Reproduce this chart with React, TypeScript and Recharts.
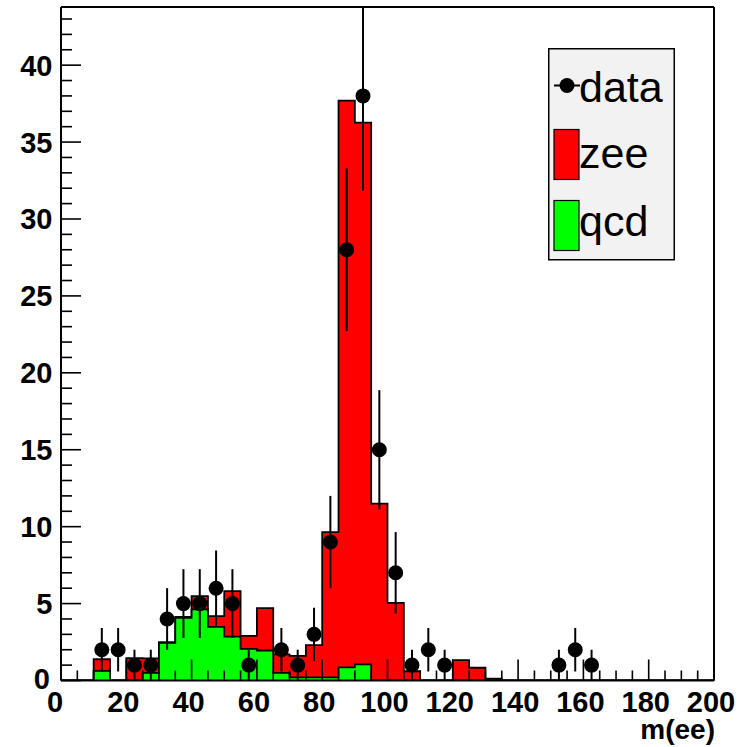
import {
  Area,
  ComposedChart,
  ErrorBar,
  Label,
  Legend,
  ReferenceLine,
  Scatter,
  XAxis,
  YAxis,
} from "recharts";

// bins of 5 in m(ee), lower edges
const binLow = [
  0, 5, 10, 15, 20, 25, 30, 35, 40, 45, 50, 55, 60, 65, 70, 75, 80, 85, 90, 95,
  100, 105, 110, 115, 120, 125, 130, 135, 140, 145, 150, 155, 160, 165, 170, 175, 180, 185, 190, 195,
];
const qcd = [
  0, 0, 0.62, 0, 0, 0.5, 2.45, 4.08, 4.62, 3.49, 2.85, 2.05, 1.95, 0.5, 0.2, 0.2, 0.2, 0.85, 1.05, 0,
  0, 0, 0, 0, 0, 0, 0, 0, 0, 0, 0, 0, 0, 0, 0, 0, 0, 0, 0, 0,
];
const zee = [
  0, 0, 0.76, 0, 1.45, 0.94, 0.05, 0.05, 0.87, 0.7, 2.96, 0.85, 2.75, 1.2, 1.4, 2.1, 9.45, 36.85, 35.22, 11.5,
  5.05, 0.6, 0, 0, 1.33, 0.83, 0.12, 0, 0, 0, 0, 0, 0, 0, 0, 0, 0, 0, 0, 0,
];

// observed counts at bin centres
const dataX = [
  12.5, 17.5, 22.5, 27.5, 32.5, 37.5, 42.5, 47.5, 52.5, 57.5, 67.5, 72.5, 77.5, 82.5, 87.5, 92.5, 97.5,
  102.5, 107.5, 112.5, 117.5, 152.5, 157.5, 162.5,
];
const dataN = [2, 2, 1, 1, 4, 5, 5, 6, 5, 1, 2, 1, 3, 9, 28, 38, 15, 7, 1, 2, 1, 1, 2, 1];

const xTicks = [
  0, 5, 10, 15, 20, 25, 30, 35, 40, 45, 50, 55, 60, 65, 70, 75, 80, 85, 90, 95, 100,
  105, 110, 115, 120, 125, 130, 135, 140, 145, 150, 155, 160, 165, 170, 175, 180, 185, 190, 195, 200,
];
const yTicks = [
  0, 1, 2, 3, 4, 5, 6, 7, 8, 9, 10, 11, 12, 13, 14, 15, 16, 17, 18, 19, 20, 21,
  22, 23, 24, 25, 26, 27, 28, 29, 30, 31, 32, 33, 34, 35, 36, 37, 38, 39, 40, 41, 42, 43,
];

const X_MAX = 200;
const Y_MAX = 43.78;
const FONT = "'Liberation Sans', Arial, Helvetica, sans-serif";

const lastBin = binLow.length - 1;
const histRows = [
  ...binLow.map((x, i) => ({ x, qcd: qcd[i], total: qcd[i] + zee[i] })),
  { x: X_MAX, qcd: qcd[lastBin], total: qcd[lastBin] + zee[lastBin] },
];
// poisson errors, upper side cut at the frame like ROOT does
const dataPts = dataX.map((x, i) => {
  const e = Math.sqrt(dataN[i]);
  return { x, y: dataN[i], err: [e, Math.min(e, Y_MAX - dataN[i])] };
});

function XTick(props: any) {
  const { x, y, payload } = props;
  const v = payload.value;
  const major = v % 20 === 0;
  return (
    <g>
      <line x1={x} x2={x} y1={y} y2={y - (major ? 21 : 10)} stroke="#000" strokeWidth={1.6} />
      {major && (
        <text x={x - (v === 0 ? 6 : 3)} y={y + 31} textAnchor="middle" fontFamily={FONT} fontWeight="bold" fontSize={29} fill="#000">
          {v}
        </text>
      )}
    </g>
  );
}

function YTick(props: any) {
  const { x, y, payload } = props;
  const v = payload.value;
  const major = v % 5 === 0;
  return (
    <g>
      <line x1={x} x2={x + (major ? 20 : 11)} y1={y} y2={y} stroke="#000" strokeWidth={1.6} />
      {major && (
        <text x={x - (v === 0 ? 11 : 8.5)} y={y - (v === 0 ? 2 : 0)} dy="0.36em" textAnchor="end" fontFamily={FONT} fontWeight="bold" fontSize={29} fill="#000">
          {v}
        </text>
      )}
    </g>
  );
}

function XTitle(props: any) {
  const vb = props.viewBox;
  return (
    <text x={vb.x + vb.width + 1} y={vb.y + 58.5} textAnchor="end" fontFamily={FONT} fontWeight="bold" fontSize={28} fill="#000">
      m(ee)
    </text>
  );
}

function Dot(props: any) {
  return <circle cx={props.cx} cy={props.cy} r={7.5} fill="#000" />;
}

function LegendBox() {
  const txt = { fontFamily: FONT, fontSize: 43, fill: "#000" };
  return (
    <svg width={128} height={213} style={{ display: "block" }}>
      <rect x={0.75} y={0.75} width={125.5} height={211} fill="#f2f2f2" stroke="#000" strokeWidth={1.5} />
      <line x1={6} x2={32} y1={37.5} y2={37.5} stroke="#000" strokeWidth={2} />
      <circle cx={19} cy={37.5} r={7.5} fill="#000" />
      <text x={31} y={53.5} {...txt}>data</text>
      <rect x={6} y={81.5} width={25} height={50} fill="#ff0000" stroke="#000" strokeWidth={1.2} />
      <text x={31} y={119.5} {...txt}>zee</text>
      <rect x={6} y={152.5} width={25} height={50} fill="#00ff00" stroke="#000" strokeWidth={1.2} />
      <text x={31} y={187.5} {...txt}>qcd</text>
    </svg>
  );
}

export default function App() {
  return (
    <div style={{ position: "absolute", left: 0, top: 0, background: "#fff" }}>
      <ComposedChart
        width={751}
        height={747}
        data={histRows}
        margin={{ top: 7, right: 37, bottom: 0, left: 0 }}
      >
        <Area
          type="stepAfter"
          dataKey="total"
          fill="#ff0000"
          fillOpacity={1}
          stroke="#000"
          strokeWidth={1.8}
          isAnimationActive={false}
        />
        <Area
          type="stepAfter"
          dataKey="qcd"
          fill="#00ff00"
          fillOpacity={1}
          stroke="#000"
          strokeWidth={1.8}
          isAnimationActive={false}
        />
        <XAxis
          type="number"
          dataKey="x"
          domain={[0, X_MAX]}
          allowDataOverflow
          ticks={xTicks}
          interval={0}
          height={66.5}
          tickSize={0}
          tickMargin={0}
          tickLine={false}
          tick={<XTick />}
          axisLine={{ stroke: "#000", strokeWidth: 2 }}
          zIndex={700}
        >
          <Label content={<XTitle />} />
        </XAxis>
        <YAxis
          type="number"
          domain={[0, Y_MAX]}
          allowDataOverflow
          ticks={yTicks}
          interval={0}
          width={61}
          tickSize={0}
          tickMargin={0}
          tickLine={false}
          tick={<YTick />}
          axisLine={{ stroke: "#000", strokeWidth: 2 }}
          zIndex={700}
        />
        <ReferenceLine y={Y_MAX} stroke="#000" strokeWidth={2} />
        <ReferenceLine x={X_MAX} stroke="#000" strokeWidth={2} />
        <Scatter data={dataPts} dataKey="y" fill="#000" shape={<Dot />} isAnimationActive={false}>
          <ErrorBar dataKey="err" direction="y" width={0} stroke="#000" strokeWidth={2} />
        </Scatter>
        <Legend
          layout="horizontal"
          verticalAlign="middle"
          align="center"
          content={() => <LegendBox />}
          wrapperStyle={{ left: 548, top: 47.5, width: 128, height: 213 }}
        />
      </ComposedChart>
    </div>
  );
}
